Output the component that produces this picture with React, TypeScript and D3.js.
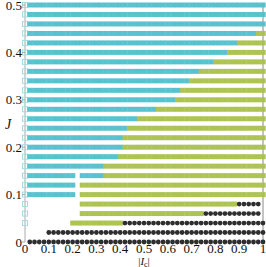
import * as d3 from "d3";

// J rows and |Ic| ranges for each phase (grid step 0.02)
const step = 0.02;

// cyan phase: [J, from, to]
const cyanRows: [number, number, number][] = [
  [0.5, 0.02, 1], [0.48, 0.02, 1], [0.46, 0.02, 1], [0.44, 0.02, 0.96],
  [0.42, 0.02, 0.88], [0.4, 0.02, 0.84], [0.38, 0.02, 0.78], [0.36, 0.02, 0.72],
  [0.34, 0.02, 0.68], [0.32, 0.02, 0.64], [0.3, 0.02, 0.62], [0.28, 0.02, 0.54],
  [0.26, 0.02, 0.46], [0.24, 0.02, 0.42], [0.22, 0.02, 0.4], [0.2, 0.02, 0.4],
  [0.18, 0.02, 0.38], [0.16, 0.02, 0.32], [0.14, 0.02, 0.2], [0.14, 0.24, 0.32],
  [0.12, 0.02, 0.2], [0.1, 0.02, 0.2],
];

// green phase: [J, from, to]
const greenRows: [number, number, number][] = [
  [0.44, 0.98, 1], [0.42, 0.9, 1], [0.4, 0.86, 1], [0.38, 0.8, 1],
  [0.36, 0.74, 1], [0.34, 0.7, 1], [0.32, 0.66, 1], [0.3, 0.64, 1],
  [0.28, 0.56, 1], [0.26, 0.48, 1], [0.24, 0.44, 1], [0.22, 0.42, 1],
  [0.2, 0.42, 1], [0.18, 0.4, 1], [0.16, 0.34, 1], [0.14, 0.34, 1],
  [0.12, 0.24, 1], [0.1, 0.24, 1], [0.08, 0.24, 0.88], [0.06, 0.24, 0.74],
  [0.04, 0.2, 0.4],
];

// black dot phase: [J, from, to]
const dotRows: [number, number, number][] = [
  [0.08, 0.9, 0.98], [0.06, 0.76, 0.98], [0.04, 0.42, 1], [0.02, 0.1, 1], [0, 0.02, 1],
];

// open squares at |Ic| = 0
const openJ = [
  0.5, 0.48, 0.46, 0.44, 0.42, 0.4, 0.38, 0.36, 0.34, 0.32, 0.3, 0.28, 0.26,
  0.24, 0.22, 0.2, 0.18, 0.16, 0.14, 0.12, 0.1, 0.08, 0.06, 0.04,
];

const xTicks = [0, 0.1, 0.2, 0.3, 0.4, 0.5, 0.6, 0.7, 0.8, 0.9, 1];
const yTicks = [0, 0.1, 0.2, 0.3, 0.4, 0.5];

const W = 266;
const H = 267;

function expand(rows: [number, number, number][]) {
  const pts: { x: number; y: number }[] = [];
  rows.forEach(([j, a, b]) => {
    const n = Math.round((b - a) / step);
    for (let i = 0; i <= n; i++) pts.push({ x: a + i * step, y: j });
  });
  return pts;
}

export default function App() {
  const x = d3.scaleLinear().domain([0, 1]).range([25, 263]);
  const y = d3.scaleLinear().domain([0, 0.5]).range([242, 5]);
  const cw = x(step) - x(0);
  const bh = 5;

  const cyan = expand(cyanRows);
  const green = expand(greenRows);
  const dots = expand(dotRows);
  const font = "'Liberation Serif', 'Times New Roman', serif";

  return (
    <svg
      width={W}
      height={H}
      style={{ position: "absolute", left: 0, top: 0, background: "#fff" }}
    >
      {/* frame */}
      <line x1={x(0)} x2={x(0)} y1={y(0.5) - 2} y2={y(0)} stroke="#aaa" strokeWidth={1} />
      <line x1={x(1)} x2={x(1)} y1={y(0.5) - 2} y2={y(0)} stroke="#888" strokeWidth={1} />

      {openJ.map((j, i) => (
        <rect
          key={"o" + i}
          x={x(0) - 2.5}
          y={y(j) - 2.5}
          width={5}
          height={5}
          fill="none"
          stroke="#a6dbe3"
          strokeWidth={1}
        />
      ))}

      {cyan.map((d, i) => (
        <rect
          key={"c" + i}
          x={x(d.x) - cw / 2}
          y={y(d.y) - bh / 2}
          width={cw + 0.3}
          height={bh}
          fill="#4fbfcb"
          opacity={0.95}
        />
      ))}
      {green.map((d, i) => (
        <rect
          key={"g" + i}
          x={x(d.x) - cw / 2}
          y={y(d.y) - bh / 2}
          width={cw + 0.3}
          height={bh}
          fill="#a9c14b"
          opacity={0.95}
        />
      ))}
      {dots.map((d, i) => (
        <circle key={"d" + i} cx={x(d.x)} cy={y(d.y)} r={2.4} fill="#2e2e2e" />
      ))}

      {/* y ticks */}
      {yTicks.map((t) => (
        <g key={"yt" + t}>
          <line x1={x(0) - 3} x2={x(0)} y1={y(t)} y2={y(t)} stroke="#aaa" />
          <text
            x={x(0) - 3}
            y={y(t)}
            dy="0.35em"
            textAnchor="end"
            fontFamily={font}
            fontSize={13}
            fill="#111"
          >
            {t === 0 ? "0" : t.toFixed(1)}
          </text>
        </g>
      ))}

      {/* x ticks */}
      {xTicks.map((t) => (
        <text
          key={"xt" + t}
          x={x(t)}
          y={253}
          textAnchor="middle"
          fontFamily={font}
          fontSize={13}
          fill="#111"
        >
          {t === 0 || t === 1 ? String(t) : t.toFixed(1)}
        </text>
      ))}

      <text
        x={8}
        y={124}
        dy="0.35em"
        textAnchor="middle"
        fontFamily={font}
        fontStyle="italic"
        fontSize={14}
        fill="#111"
      >
        J
      </text>
      <text x={144} y={265} textAnchor="middle" fontFamily={font} fontSize={11} fill="#111">
        |<tspan fontStyle="italic">I</tspan>
        <tspan fontSize={8} dy={1.5}>c</tspan>
        <tspan dy={-1.5}>|</tspan>
      </text>
    </svg>
  );
}
